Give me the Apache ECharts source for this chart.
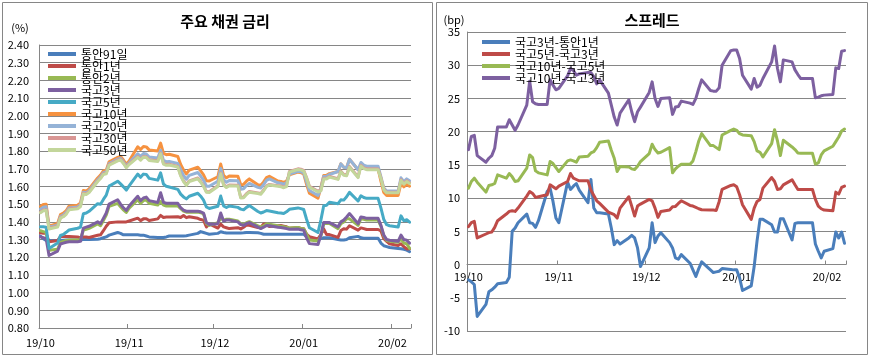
<!DOCTYPE html>
<html><head><meta charset="utf-8">
<script src="https://cdn.jsdelivr.net/npm/echarts/dist/echarts.min.js"></script>
<style>html,body{margin:0;padding:0;background:#fff}#c{width:870px;height:358px}</style>
</head><body><div id="c"></div>
<script>
// ---- data (business days, Oct 1 2019 - Feb 7 2020) ----
const dates = [
'2019-10-01','2019-10-02','2019-10-03','2019-10-04','2019-10-07','2019-10-08','2019-10-09','2019-10-10','2019-10-11','2019-10-14',
'2019-10-15','2019-10-16','2019-10-17','2019-10-18','2019-10-21','2019-10-22','2019-10-23','2019-10-24','2019-10-25','2019-10-28',
'2019-10-29','2019-10-30','2019-10-31','2019-11-01','2019-11-04','2019-11-05','2019-11-06','2019-11-07','2019-11-08','2019-11-11',
'2019-11-12','2019-11-13','2019-11-14','2019-11-15','2019-11-18','2019-11-19','2019-11-20','2019-11-21','2019-11-22','2019-11-25',
'2019-11-26','2019-11-27','2019-11-28','2019-11-29','2019-12-02','2019-12-03','2019-12-04','2019-12-05','2019-12-06','2019-12-09',
'2019-12-10','2019-12-11','2019-12-12','2019-12-13','2019-12-16','2019-12-17','2019-12-18','2019-12-19','2019-12-20','2019-12-23',
'2019-12-24','2019-12-25','2019-12-26','2019-12-27','2019-12-30','2019-12-31','2020-01-01','2020-01-02','2020-01-03','2020-01-06',
'2020-01-07','2020-01-08','2020-01-09','2020-01-10','2020-01-13','2020-01-14','2020-01-15','2020-01-16','2020-01-17','2020-01-20',
'2020-01-21','2020-01-22','2020-01-23','2020-01-24','2020-01-27','2020-01-28','2020-01-29','2020-01-30','2020-01-31','2020-02-03',
'2020-02-04','2020-02-05','2020-02-06','2020-02-07'];
const axisStart = '2019-10-01';
const axisEnd = '2020-02-07';

const tb91 = [1.320,1.305,1.295,1.293,1.295,1.295,1.296,1.297,1.297,1.297,
 1.298,1.300,1.300,1.300,1.302,1.305,1.310,1.315,1.325,1.340,
 1.335,1.327,1.327,1.327,1.327,1.325,1.325,1.320,1.315,1.312,
 1.312,1.312,1.315,1.320,1.320,1.320,1.320,1.322,1.325,1.335,
 1.345,1.340,1.335,1.330,1.335,1.344,1.340,1.337,1.337,1.337,
 1.337,1.338,1.340,1.340,1.338,1.335,1.330,1.330,1.330,1.330,
 1.330,1.330,1.330,1.330,1.330,1.330,1.330,1.315,1.300,1.300,
 1.305,1.310,1.310,1.310,1.300,1.297,1.297,1.300,1.310,1.318,
 1.310,1.308,1.307,1.307,1.307,1.280,1.265,1.260,1.255,1.250,
 1.248,1.245,1.240,1.232];
const tb1y = [1.338,1.336,1.335,1.288,1.295,1.316,1.318,1.318,1.317,1.315,
 1.309,1.315,1.315,1.312,1.324,1.327,1.350,1.375,1.395,1.400,
 1.400,1.400,1.400,1.405,1.421,1.407,1.417,1.418,1.408,1.417,
 1.437,1.425,1.427,1.427,1.429,1.425,1.436,1.424,1.429,1.420,
 1.413,1.410,1.371,1.388,1.365,1.387,1.372,1.367,1.362,1.367,
 1.360,1.370,1.382,1.381,1.368,1.370,1.388,1.386,1.374,1.378,
 1.380,1.376,1.372,1.364,1.368,1.363,1.361,1.330,1.316,1.304,
 1.328,1.360,1.328,1.328,1.312,1.351,1.361,1.359,1.378,1.353,
 1.366,1.362,1.357,1.357,1.357,1.349,1.305,1.290,1.276,1.266,
 1.276,1.260,1.247,1.248];
const tb2y = [1.350,1.345,1.340,1.240,1.245,1.285,1.290,1.295,1.298,1.298,
 1.300,1.353,1.358,1.363,1.388,1.378,1.408,1.438,1.488,1.505,
 1.485,1.468,1.453,1.478,1.525,1.505,1.520,1.525,1.505,1.495,
 1.515,1.495,1.490,1.490,1.490,1.475,1.461,1.455,1.455,1.455,
 1.452,1.445,1.391,1.380,1.395,1.420,1.410,1.415,1.415,1.405,
 1.390,1.385,1.395,1.401,1.378,1.370,1.378,1.388,1.386,1.378,
 1.376,1.373,1.370,1.366,1.368,1.363,1.361,1.330,1.297,1.292,
 1.320,1.391,1.391,1.391,1.362,1.390,1.400,1.418,1.417,1.380,
 1.418,1.415,1.410,1.410,1.410,1.375,1.320,1.295,1.291,1.285,
 1.305,1.280,1.276,1.250];
const gk3y = [1.315,1.310,1.305,1.210,1.235,1.275,1.280,1.285,1.288,1.288,
 1.290,1.365,1.370,1.375,1.400,1.390,1.420,1.450,1.500,1.525,
 1.500,1.480,1.465,1.490,1.545,1.520,1.535,1.540,1.520,1.510,
 1.565,1.510,1.505,1.505,1.505,1.480,1.466,1.460,1.460,1.460,
 1.457,1.450,1.396,1.385,1.390,1.450,1.405,1.410,1.410,1.400,
 1.385,1.380,1.390,1.396,1.370,1.362,1.370,1.380,1.378,1.370,
 1.368,1.365,1.362,1.358,1.360,1.355,1.353,1.310,1.277,1.272,
 1.325,1.396,1.396,1.396,1.372,1.400,1.410,1.428,1.447,1.390,
 1.428,1.425,1.420,1.420,1.420,1.380,1.325,1.300,1.296,1.290,
 1.325,1.300,1.296,1.280];
const gk5y = [1.372,1.373,1.370,1.250,1.281,1.323,1.329,1.341,1.354,1.364,
 1.370,1.446,1.450,1.460,1.503,1.500,1.527,1.551,1.602,1.630,
 1.615,1.598,1.580,1.604,1.670,1.652,1.670,1.668,1.646,1.636,
 1.677,1.614,1.601,1.597,1.584,1.557,1.541,1.530,1.545,1.562,
 1.545,1.523,1.484,1.476,1.488,1.546,1.490,1.481,1.490,1.482,
 1.472,1.468,1.482,1.492,1.459,1.450,1.456,1.464,1.461,1.452,
 1.450,1.447,1.457,1.471,1.479,1.475,1.470,1.415,1.367,1.340,
 1.410,1.491,1.494,1.511,1.503,1.525,1.523,1.542,1.567,1.518,
 1.548,1.538,1.533,1.533,1.533,1.478,1.413,1.384,1.378,1.371,
 1.434,1.406,1.412,1.398];
const gk10y = [1.487,1.498,1.500,1.375,1.391,1.441,1.449,1.463,1.489,1.494,
 1.507,1.578,1.575,1.586,1.648,1.665,1.688,1.692,1.740,1.765,
 1.770,1.750,1.726,1.744,1.825,1.809,1.826,1.824,1.807,1.801,
 1.845,1.787,1.780,1.782,1.770,1.725,1.693,1.671,1.693,1.709,
 1.689,1.666,1.632,1.631,1.655,1.727,1.663,1.649,1.659,1.658,
 1.610,1.612,1.630,1.643,1.610,1.606,1.626,1.650,1.658,1.631,
 1.629,1.623,1.630,1.666,1.681,1.679,1.672,1.612,1.562,1.534,
 1.595,1.662,1.663,1.673,1.685,1.728,1.709,1.706,1.754,1.695,
 1.721,1.706,1.700,1.700,1.700,1.629,1.566,1.549,1.549,1.549,
 1.619,1.598,1.613,1.602];
const gk20y = [1.472,1.483,1.485,1.370,1.381,1.431,1.439,1.453,1.479,1.484,
 1.497,1.568,1.565,1.576,1.638,1.655,1.678,1.682,1.730,1.755,
 1.760,1.740,1.716,1.734,1.785,1.769,1.786,1.784,1.767,1.761,
 1.805,1.747,1.740,1.742,1.730,1.695,1.663,1.641,1.663,1.679,
 1.659,1.636,1.602,1.601,1.630,1.702,1.638,1.624,1.634,1.633,
 1.585,1.587,1.605,1.618,1.595,1.591,1.611,1.635,1.643,1.621,
 1.619,1.613,1.620,1.671,1.686,1.684,1.677,1.627,1.577,1.549,
 1.590,1.657,1.658,1.668,1.685,1.728,1.709,1.706,1.754,1.695,
 1.736,1.721,1.715,1.715,1.715,1.654,1.591,1.574,1.574,1.574,
 1.649,1.628,1.643,1.632];
const gk30y = [1.456,1.467,1.469,1.364,1.375,1.425,1.433,1.447,1.473,1.478,
 1.491,1.562,1.559,1.570,1.632,1.649,1.672,1.676,1.724,1.749,
 1.754,1.734,1.710,1.728,1.769,1.753,1.770,1.768,1.751,1.745,
 1.789,1.731,1.724,1.726,1.714,1.664,1.632,1.610,1.632,1.648,
 1.628,1.605,1.571,1.570,1.604,1.676,1.612,1.598,1.608,1.607,
 1.539,1.541,1.559,1.572,1.564,1.560,1.580,1.604,1.612,1.605,
 1.603,1.597,1.604,1.685,1.700,1.698,1.691,1.651,1.601,1.573,
 1.579,1.646,1.647,1.657,1.644,1.687,1.668,1.665,1.713,1.654,
 1.720,1.705,1.699,1.699,1.699,1.648,1.585,1.568,1.568,1.568,
 1.638,1.617,1.632,1.621];
const gk50y = [1.452,1.463,1.465,1.360,1.371,1.421,1.429,1.443,1.469,1.474,
 1.487,1.558,1.555,1.566,1.628,1.645,1.668,1.672,1.720,1.745,
 1.750,1.730,1.706,1.724,1.765,1.749,1.766,1.764,1.747,1.741,
 1.785,1.727,1.720,1.722,1.710,1.660,1.628,1.606,1.628,1.644,
 1.624,1.601,1.567,1.566,1.600,1.672,1.608,1.594,1.604,1.603,
 1.535,1.537,1.555,1.568,1.560,1.556,1.576,1.600,1.608,1.601,
 1.599,1.593,1.600,1.681,1.696,1.694,1.687,1.647,1.597,1.569,
 1.575,1.642,1.643,1.653,1.640,1.683,1.664,1.661,1.709,1.650,
 1.716,1.701,1.695,1.695,1.695,1.644,1.581,1.564,1.564,1.564,
 1.634,1.613,1.628,1.617];

const spread3y1y = [-2.3,-2.6,-3.0,-7.8,-6.0,-4.1,-3.8,-3.4,-2.9,-2.7,
 -1.9,5.0,5.5,6.3,7.6,6.3,6.2,5.6,6.6,11.0,
 11.5,9.5,7.0,6.3,12.4,11.3,11.8,12.2,11.2,9.3,
 12.8,8.5,7.8,7.8,7.6,5.5,3.0,3.6,3.1,4.0,
 4.4,4.0,2.5,-0.3,2.5,6.3,3.3,4.3,4.8,3.3,
 2.5,1.0,0.8,1.5,0.2,-0.8,-1.8,-0.6,0.4,-0.8,
 -1.2,-1.1,-1.0,-0.6,-0.75,-0.8,-0.8,-2.0,-3.9,-3.2,
 -0.3,3.6,6.8,6.8,6.0,4.9,4.9,6.9,6.9,3.7,
 6.2,6.3,6.3,6.3,6.3,3.1,2.0,1.0,2.0,2.4,
 4.9,4.0,4.9,3.2];
const spread5y3y = [5.7,6.3,6.5,4.0,4.6,4.8,4.9,5.6,6.6,7.6,
 8.0,8.1,8.0,8.5,10.3,11.0,10.7,10.1,10.2,10.5,
 12.0,11.7,11.4,11.8,12.5,13.7,13.0,12.8,12.6,12.6,
 11.2,10.4,9.6,9.2,7.9,7.7,7.5,7.0,8.5,10.2,
 8.8,7.3,8.8,9.1,9.8,9.6,8.5,7.1,8.0,8.2,
 8.7,8.75,9.2,9.6,8.9,8.8,8.6,8.4,8.25,8.2,
 8.2,8.15,9.5,11.3,11.9,12.0,11.7,10.5,9.0,6.8,
 8.5,9.5,9.8,11.5,13.1,12.5,11.3,11.4,12.0,12.75,
 12.0,11.3,11.3,11.3,11.3,9.8,8.8,8.4,8.2,8.1,
 10.9,10.6,11.6,11.8];
const spread10y5y = [11.5,12.5,13.0,12.4,10.9,11.9,12.0,12.2,13.5,13.0,
 13.7,13.2,12.5,12.6,14.5,16.5,16.1,14.1,13.8,13.5,
 15.5,15.2,14.6,14.0,15.6,15.75,15.6,15.4,16.2,16.3,
 16.8,17.0,17.6,18.4,18.6,17.2,16.0,14.0,14.75,14.7,
 14.4,14.3,14.8,15.5,16.7,18.1,17.3,16.8,16.9,17.6,
 13.8,14.4,14.8,15.1,15.1,15.6,17.0,18.6,19.7,17.9,
 17.9,17.6,17.3,19.5,20.2,20.4,20.2,19.7,19.5,19.4,
 18.5,17.1,16.9,16.2,18.2,20.3,18.6,16.4,18.7,17.7,
 17.3,16.8,16.75,16.75,16.75,15.1,15.3,16.5,17.1,17.8,
 18.5,19.2,20.1,20.4];
const spread10y3y = [17.3,19.3,19.45,16.4,15.4,16.0,16.4,17.5,20.7,20.7,
 21.8,21.0,20.2,21.0,24.0,27.6,24.5,24.2,24.1,24.1,
 27.8,27.0,26.3,26.5,28.4,29.5,29.2,28.5,28.7,28.9,
 28.9,28.3,27.2,27.8,25.8,24.0,22.2,21.0,22.8,24.8,
 23.0,21.5,23.0,23.7,25.9,27.5,25.0,23.8,25.0,25.1,
 22.6,23.7,23.8,24.6,24.3,24.1,25.0,26.5,27.8,26.2,
 26.1,26.1,26.6,30.0,32.2,32.3,32.3,31.0,28.5,26.4,
 28.0,26.7,27.0,28.0,30.5,32.9,29.5,27.5,30.8,30.5,
 29.3,28.6,28.0,28.0,28.0,25.1,25.2,25.4,25.5,25.6,
 29.6,29.5,32.1,32.2];

const leftNames = ['통안91일','통안1년','통안2년','국고3년','국고5년','국고10년','국고20년','국고30년','국고50년'];
const leftValues = [tb91, tb1y, tb2y, gk3y, gk5y, gk10y, gk20y, gk30y, gk50y];
const rightNames = ['국고3년-통안1년','국고5년-국고3년','국고10년-국고5년','국고10년-국고3년'];
const rightValues = [spread3y1y, spread5y3y, spread10y5y, spread10y3y];
const leftYTicks = {min: 0.8, max: 2.4, step: 0.1};
const rightYTicks = {min: -10, max: 35, step: 5};

// ---- styling ----
const leftColors = ['#4A7EBB','#BE4B48','#98B954','#7D60A0','#46AAC5','#F69240','#95B3D7','#D99694','#C3D69B'];
const rightColors = ['#4A7EBB','#BE4B48','#98B954','#7D60A0'];
const FONT = '"Noto Sans CJK KR", "Noto Sans", sans-serif';
const GRIDC = '#868686';

// calendar-day category axis (so month ticks fall at real month starts)
const calendar = [];
for (let t = Date.parse(axisStart + 'T00:00:00Z'); t <= Date.parse(axisEnd + 'T00:00:00Z'); t += 86400000) {
  calendar.push(new Date(t).toISOString().slice(0, 10));
}
const posOf = {}; calendar.forEach((d, i) => posOf[d] = i);
function onCalendar(vals) {
  const out = calendar.map(() => null);
  dates.forEach((d, i) => { out[posOf[d]] = vals[i]; });
  return out;
}
const isMonthStart = (i, v) => v.slice(8) === '01';
const fmtMonth = v => v.slice(2, 4) + '/' + v.slice(5, 7);

const GRID_L = {left: 39, top: 45, width: 372, height: 283};
const GRID_R = {left: 467, top: 32, width: 379, height: 299};
// right x axis sits on the zero line (value 0 inside [-10, 35])
const zeroShift = GRID_R.height * (0 - rightYTicks.min) / (rightYTicks.max - rightYTicks.min);

function xAxis(gi, margin, offset) {
  return {
    type: 'category', gridIndex: gi, data: calendar, boundaryGap: true, offset: offset,
    axisLine: {onZero: false, lineStyle: {color: GRIDC, width: 1}},
    axisTick: {show: true, inside: true, interval: isMonthStart, length: 4, lineStyle: {color: GRIDC}},
    axisLabel: {interval: isMonthStart, formatter: fmtMonth, color: '#000', fontSize: 11, fontFamily: FONT, margin: margin},
    splitLine: {show: false}
  };
}
function yAxis(gi, t, fmt, margin) {
  return {
    type: 'value', gridIndex: gi, min: t.min, max: t.max, interval: t.step,
    axisLabel: {formatter: fmt, color: '#000', fontSize: 11, fontFamily: FONT, margin: margin},
    axisLine: {show: true, lineStyle: {color: GRIDC}},
    axisTick: {show: false},
    splitLine: {show: true, lineStyle: {color: GRIDC, width: 1}}
  };
}
function lineSeries(name, vals, color, axis) {
  return {
    name: name, type: 'line', xAxisIndex: axis, yAxisIndex: axis,
    data: onCalendar(vals), connectNulls: true, showSymbol: false, symbol: 'none',
    lineStyle: {width: 3, color: color, join: 'round', cap: 'round'},
    itemStyle: {color: color}, emphasis: {disabled: true}, silent: true
  };
}
function legend(names, left, top) {
  return {
    data: names, orient: 'vertical', left: left, top: top, padding: 0, itemWidth: 28, itemHeight: 4,
    itemGap: 0, icon: 'rect', selectedMode: false,
    textStyle: {fontSize: 12, lineHeight: 11.7, color: '#000', fontFamily: FONT}
  };
}

const chart = echarts.init(document.getElementById('c'));
chart.setOption({
  animation: false,
  backgroundColor: '#fff',
  textStyle: {fontFamily: FONT},
  grid: [GRID_L, GRID_R],
  xAxis: [xAxis(0, 9, 0), xAxis(1, 7, -zeroShift)],
  yAxis: [
    yAxis(0, leftYTicks, v => v.toFixed(2), 10),
    yAxis(1, rightYTicks, v => String(Math.round(v)), 7)
  ],
  legend: [legend(leftNames, 48, 48), legend(rightNames, 482, 36)],
  series: leftNames.map((n, i) => lineSeries(n, leftValues[i], leftColors[i], 0))
    .concat(rightNames.map((n, i) => lineSeries(n, rightValues[i], rightColors[i], 1))),
  graphic: [
    {type: 'rect', shape: {x: 2.5, y: 2.5, width: 430, height: 352}, style: {fill: null, stroke: GRIDC, lineWidth: 1}, silent: true},
    {type: 'rect', shape: {x: 436.5, y: 2.5, width: 431, height: 352}, style: {fill: null, stroke: GRIDC, lineWidth: 1}, silent: true},
    {type: 'text', x: 225, y: 21, style: {text: '주요 채권 금리', fontSize: 15, fontWeight: 'bold', fontFamily: FONT, fill: '#000', align: 'center', verticalAlign: 'middle'}},
    {type: 'text', x: 652, y: 20, style: {text: '스프레드', fontSize: 15, fontWeight: 'bold', fontFamily: FONT, fill: '#000', align: 'center', verticalAlign: 'middle'}},
    {type: 'text', x: 20, y: 28, style: {text: '(%)', fontSize: 11, fontFamily: FONT, fill: '#000', align: 'center', verticalAlign: 'middle'}},
    {type: 'text', x: 454, y: 20, style: {text: '(bp)', fontSize: 11, fontFamily: FONT, fill: '#000', align: 'center', verticalAlign: 'middle'}}
  ]
});
</script></body></html>
